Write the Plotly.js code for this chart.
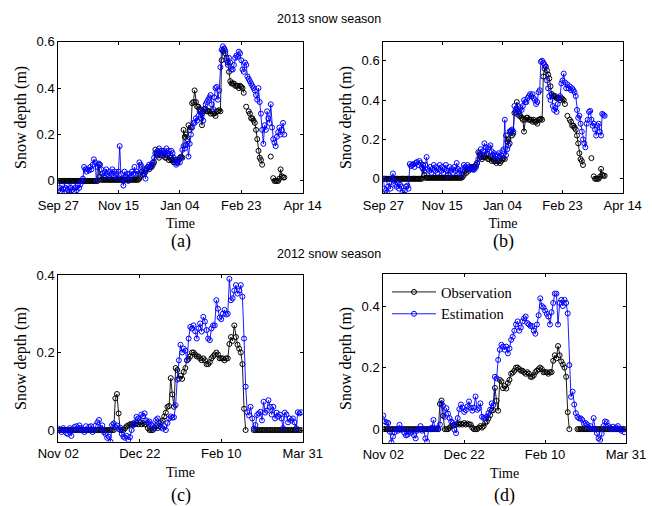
<!DOCTYPE html>
<html>
<head>
<meta charset="utf-8">
<script src="https://cdn.plot.ly/plotly-3.0.1.min.js"></script>
<style>html,body{margin:0;padding:0;background:#fff;}#chart{width:652px;height:506px;}</style>
</head>
<body>
<div id="chart"></div>
<script>
// ---------- DATA ----------
// 2013 snow season (day 0 = Sep 27), daily values (m)
const ticks2013 = ['Sep 27','Nov 15','Jan 04','Feb 23','Apr 14'];
const tickDays2013 = [0,49,99,149,199];
const obs2013 = [
0,0,0,0,0,0,0,0,0,0,
0,0,0,0,0,0,0,0,0,0,
0,0,0,0,0,0,0,0,0,0,
0,0,0,0.07,0.02,0.005,0.005,0.005,0.005,0.005,
0.005,0.005,0.005,0.005,0.005,0.005,0.005,0.005,0.005,0.005,
0.005,0.005,0.005,0.005,0.005,0.005,0.005,0.005,0.005,0.005,
0.005,0.005,0.005,0.005,0.005,0.005,0.01,0.02,0.04,0.03,
0.05,0.04,0.05,0.06,0.05,0.06,0.06,0.07,0.08,0.135,
0.12,0.11,0.1,0.11,0.12,0.11,0.12,0.1,0.1,0.11,
0.09,0.1,0.09,0.09,0.08,0.09,0.09,0.08,0.09,0.1,
0.105,0.1,0.22,0.19,0.2,0.18,0.24,0.22,0.23,0.335,
0.34,0.39,0.34,0.32,0.32,0.31,0.3,0.24,0.3,0.31,
0.31,0.3,0.3,0.3,0.29,0.3,0.29,0.29,0.28,0.3,
0.3,0.305,0.3,0.52,0.56,0.57,0.55,0.53,0.51,0.47,
0.43,0.42,0.42,0.42,0.41,0.41,0.41,0.4,0.41,0.405,
0.4,0.38,null,0.32,null,0.3,0.29,0.27,0.27,0.26,
0.25,0.22,0.18,0.13,0.1,0.09,0.07,null,null,null,
null,null,null,0.105,null,0.012,0,0,0,0,
0.01,0.05,0.02,0.015,0.015];
const estA2013 = [
-0.04,-0.03,-0.045,-0.02,-0.035,-0.05,-0.03,-0.02,-0.04,-0.05,
-0.03,-0.04,-0.02,-0.045,-0.03,-0.04,-0.02,-0.03,-0.015,0,
0.01,0.06,0.05,0.04,0.05,0.045,0.06,0.05,0.07,0.093,
0.08,0,0.06,0.075,0.07,0.05,0.03,0.02,0.04,0.05,
0.03,0.02,0.04,0.03,0.05,0.02,0.04,0.03,0.01,0.04,
0.15,0.03,0.01,-0.02,0.04,0.02,0.03,0,0.03,0.02,
0.04,0.03,0.06,0.03,0.04,0.03,0.08,0.07,0.06,0.04,
0.03,0.01,0.05,0.06,0.07,0.06,0.07,0.08,0.1,0.12,
0.11,0.13,0.14,0.12,0.13,0.11,0.13,0.12,0.14,0.12,
0.13,0.11,0.13,0.12,0.1,0.08,0.07,0.076,0.09,0.08,
0.1,0.134,0.15,0.14,0.155,0.17,0.105,0.16,0.2,0.23,
0.25,0.25,0.27,0.26,0.28,0.3,0.27,0.29,0.26,0.31,
0.33,0.34,0.35,0.36,0.37,0.33,0.31,0.36,0.4,0.405,
0.35,0.39,0.49,0.565,0.58,0.57,0.56,0.52,0.5,0.53,
0.51,0.48,0.48,0.5,0.53,0.54,0.535,0.557,0.55,0.52,
0.48,0.47,0.51,0.5,0.45,0.44,0.43,0.42,0.41,0.4,
0.39,0.37,0.35,0.4,0.34,0.29,0.22,0.16,0.24,0.22,
0.3,0.27,0.25,0.33,0.23,0.18,0.165,0.15,0.19,0.21,
0.23,0.2,0.22,0.25,0.2];
const estB2013 = [
0,-0.05,-0.06,-0.07,-0.04,-0.02,-0.05,0,0.027,-0.01,
-0.03,-0.04,-0.02,-0.05,-0.03,-0.04,-0.07,-0.08,-0.06,-0.04,
-0.035,-0.05,0.075,0.065,0.07,0.075,0.06,0.08,0.085,0.07,
0.09,0.08,0.06,0.05,0.04,0.07,0.11,0.05,0.04,0.06,
0.03,0.05,0.07,0.04,0.06,0.03,0.05,0.07,0.04,0.06,
0.03,0.05,0.07,0.04,0.02,0.06,0.04,0.05,0.03,0.06,
0.04,0.08,0.05,0.03,0.04,0.02,0.05,0.07,0.06,0.05,
0.07,0.06,0.05,0.055,0.05,0.045,0.05,0.06,0.08,0.1,
0.13,0.15,0.12,0.14,0.18,0.16,0.13,0.15,0.16,0.17,
0.14,0.12,0.13,0.12,0.1,0.12,0.13,0.11,0.12,0.14,
0.15,0.3,0.12,0.15,0.17,0.24,0.245,0.25,0.24,0.37,
0.35,0.33,0.37,0.34,0.36,0.35,0.37,0.4,0.39,0.39,
0.41,0.42,0.43,0.42,0.43,0.41,0.4,0.38,0.39,0.44,
0.45,0.595,0.6,0.59,0.58,0.57,0.5,0.46,0.42,0.4,
0.43,0.37,0.35,0.36,0.34,0.38,0.41,0.42,0.485,0.5,
0.535,0.49,0.46,0.48,0.46,0.47,0.45,0.46,0.45,0.44,
0.42,0.35,0.31,0.32,0.28,0.24,0.2,0.18,0.16,0.28,
0.3,0.34,0.345,0.3,0.27,0.28,0.25,0.22,0.27,0.28,
0.24,0.22,0.33,0.325,0.32];

// 2012 snow season (day 0 = Nov 02), daily values (m)
const ticks2012 = ['Nov 02','Dec 22','Feb 10','Mar 31'];
const tickDays2012 = [0,50,100,150];
const obs2012 = [
0,0,0,0,0,0,0,0,0,0,
0,0,0,0,0,0,0,0,0,0,
0,0,0,0,0,0,0,0,0,0,
0,0,0,0,0,0.082,0.093,0.043,0,0,
0,0.005,0.01,0.012,0.015,0.015,0.017,0.015,0.018,0.015,
0.02,0.015,0.018,0.015,0.015,0.005,0,0,0,0.005,
0.01,0.005,0.01,0.02,0.025,0.035,0.045,0.06,0.062,0.134,
0.092,0.06,0.16,0.155,0.133,0.14,0.132,0.15,0.16,0.18,
0.184,0.19,0.2,0.2,0.195,0.19,0.19,0.185,0.18,0.185,
0.18,0.17,0.17,0.175,0.185,0.19,0.195,0.2,0.195,0.185,
0.185,0.185,0.18,0.185,0.185,0.222,0.24,0.23,0.27,0.24,
0.22,0.21,0.2,0.17,0.055,0,null,null,null,null,
0,0,0,0,0,0,0,0,0,0,
0,0,0,0,0,0,0,0,0,0,
0,0,0,0,0,0,0,0,0,0];
const estC2012 = [
0.004,0,-0.005,0.005,0,-0.008,-0.01,0.005,-0.015,0,
0.008,0.01,0,0.012,0.005,0,-0.005,0.01,0,0.008,
0.01,-0.005,0,0.012,0.02,0.026,0.005,0.012,-0.005,-0.01,
-0.02,-0.017,-0.03,0.013,0.017,0.008,0.012,0.003,0.006,-0.01,
-0.017,-0.02,-0.015,-0.025,-0.018,0,0.013,0.02,0.034,0.03,
0.025,0.04,0.036,0.043,0.025,0.02,0.022,0.015,0.01,0.004,
0.026,0.03,0.018,0.008,0.004,0.01,0,0.018,0.03,0.035,
0.032,0.033,0.064,0.13,0.18,0.22,0.2,0.21,0.205,0.18,
0.236,0.266,0.262,0.27,0.255,0.236,0.262,0.275,0.254,0.292,
0.28,0.258,0.236,0.232,0.262,0.27,0.27,0.335,0.313,0.29,
0.286,0.3,0.31,0.298,0.3,0.39,0.335,0.34,0.36,0.374,
0.352,0.36,0.374,0.344,0.236,0.112,0.046,0.038,0.06,0.03,
0.004,0.013,0.039,0.043,0.047,0.025,0.073,0.045,0.05,0.077,
0.06,0.04,0.06,0.03,0.045,0.035,0.04,0.03,0.005,0.045,
0.04,0.02,0.03,0.025,0.03,0.02,0.005,0.046,0.043,0.046];
const estD2012 = [
0.044,0.025,0.022,0.02,-0.008,-0.043,-0.024,-0.01,0,-0.005,
0.014,-0.002,0,-0.012,-0.02,-0.018,-0.008,-0.012,-0.005,-0.02,
-0.03,-0.005,0,0.01,-0.005,0,-0.03,-0.04,0,0,
0.005,0.03,0,0.003,0,0.015,0.084,0.075,0.04,0.068,
0.05,0.036,0.025,0.02,-0.002,-0.013,0.036,0.065,0.08,0.07,
0.056,0.062,0.074,0.09,0.07,0.06,0.07,0.106,0.063,0.068,
0.084,0.04,0.036,0.036,0.041,0.052,0.063,0.084,0.078,0.17,
0.165,0.225,0.258,0.274,0.268,0.258,0.268,0.246,0.262,0.29,
0.3,0.32,0.34,0.35,0.32,0.33,0.35,0.36,0.366,0.345,
0.34,0.335,0.335,0.32,0.31,0.34,0.37,0.425,0.4,0.395,
0.385,0.375,0.366,0.34,0.38,0.41,0.44,0.44,0.34,0.41,
0.42,0.4,0.42,0.41,0.376,0.208,0.105,0.122,0.08,0.052,
0.04,0.035,0.035,0.03,0.018,0.02,0.015,0.005,0.01,0,
0.036,0,-0.013,-0.03,-0.035,-0.015,0.01,0.025,0.023,0.01,
0.005,0,0.008,0,0.005,0.01,0,-0.005,0,-0.01];

// ---------- BUILD ----------
const W = 652, H = 506;
const days = arr => arr.map((_, i) => i);
const dx = (a, b) => [a / W, b / W];
const dy = (top, bot) => [1 - bot / H, 1 - top / H];

function series(vals, color, name, xa, ya, show) {
  return {
    x: days(vals), y: vals, xaxis: xa, yaxis: ya, name: name,
    type: 'scatter', mode: 'lines+markers', showlegend: show,
    line: {color: color, width: 0.9},
    marker: {symbol: 'circle-open', size: 5, color: color, line: {color: color, width: 1}}
  };
}

const traces = [
  series(obs2013, '#000000', 'Observation', 'x', 'y', false),
  series(estA2013, '#0000ff', 'Estimation', 'x', 'y', false),
  series(obs2013, '#000000', 'Observation', 'x2', 'y2', false),
  series(estB2013, '#0000ff', 'Estimation', 'x2', 'y2', false),
  series(obs2012, '#000000', 'Observation', 'x3', 'y3', false),
  series(estC2012, '#0000ff', 'Estimation', 'x3', 'y3', false),
  series(obs2012, '#000000', 'Observation', 'x4', 'y4', true),
  series(estD2012, '#0000ff', 'Estimation', 'x4', 'y4', true)
];

const tickFont = {family: 'Liberation Sans, Arial, sans-serif', size: 13, color: '#000'};
const serif = 'Liberation Serif, Times New Roman, serif';
function xax(dom, anchor, range, vals, text) {
  return {domain: dom, anchor: anchor, range: range, tickvals: vals, ticktext: text,
    showline: true, linecolor: '#000', linewidth: 1, mirror: 'ticks', ticks: 'inside',
    ticklen: 3, tickcolor: '#000', showgrid: false, zeroline: false, tickfont: tickFont,
    title: {text: 'Time', font: {family: serif, size: 14, color: '#000'}, standoff: 6}};
}
function yax(dom, anchor, range, vals) {
  return {domain: dom, anchor: anchor, range: range, tickvals: vals,
    ticktext: vals.map(v => String(v)),
    showline: true, linecolor: '#000', linewidth: 1, mirror: 'ticks', ticks: 'inside',
    ticklen: 3, tickcolor: '#000', showgrid: false, zeroline: false, tickfont: tickFont,
    title: {text: 'Snow depth (m)', font: {family: serif, size: 16, color: '#000'}, standoff: 6}};
}

const layout = {
  width: W, height: H, autosize: false,
  margin: {l: 0, r: 0, t: 0, b: 0},
  paper_bgcolor: '#fff', plot_bgcolor: '#fff',
  xaxis:  xax(dx(58.3, 302.7), 'y',  [0, 199], tickDays2013, ticks2013),
  yaxis:  yax(dy(41.7, 193),   'x',  [-0.052, 0.6], [0, 0.2, 0.4, 0.6]),
  xaxis2: xax(dx(383.3, 622.7), 'y2', [0, 199], tickDays2013, ticks2013),
  yaxis2: yax(dy(41.7, 193.3),  'x2', [-0.074, 0.697], [0, 0.2, 0.4, 0.6]),
  xaxis3: xax(dx(58.3, 302.7), 'y3', [0, 150], tickDays2012, ticks2012),
  yaxis3: yax(dy(275, 441.7),  'x3', [-0.03, 0.4], [0, 0.2, 0.4]),
  xaxis4: xax(dx(383.3, 626),  'y4', [0, 150], tickDays2012, ticks2012),
  yaxis4: yax(dy(274, 442.7),  'x4', [-0.044, 0.504], [0, 0.2, 0.4]),
  showlegend: true,
  legend: {x: 387 / W, y: 1 - 276 / H, xanchor: 'left', yanchor: 'top',
    bgcolor: 'rgba(0,0,0,0)', borderwidth: 0, tracegroupgap: 0, itemwidth: 44,
    font: {family: serif, size: 14.5, color: '#000'}},
  annotations: [
    {text: '2013 snow season', x: 329 / W, y: 1 - 19 / H, xref: 'paper', yref: 'paper',
     showarrow: false, xanchor: 'center', yanchor: 'middle',
     font: {family: 'Liberation Sans, Arial, sans-serif', size: 12.5, color: '#000'}},
    {text: '2012 snow season', x: 329 / W, y: 1 - 254 / H, xref: 'paper', yref: 'paper',
     showarrow: false, xanchor: 'center', yanchor: 'middle',
     font: {family: 'Liberation Sans, Arial, sans-serif', size: 12.5, color: '#000'}},
    {text: '(a)', x: 180.5 / W, y: 1 - 241 / H, xref: 'paper', yref: 'paper', showarrow: false,
     xanchor: 'center', yanchor: 'middle', font: {family: serif, size: 18, color: '#000'}},
    {text: '(b)', x: 503 / W, y: 1 - 241 / H, xref: 'paper', yref: 'paper', showarrow: false,
     xanchor: 'center', yanchor: 'middle', font: {family: serif, size: 18, color: '#000'}},
    {text: '(c)', x: 180.5 / W, y: 1 - 495 / H, xref: 'paper', yref: 'paper', showarrow: false,
     xanchor: 'center', yanchor: 'middle', font: {family: serif, size: 18, color: '#000'}},
    {text: '(d)', x: 504 / W, y: 1 - 495 / H, xref: 'paper', yref: 'paper', showarrow: false,
     xanchor: 'center', yanchor: 'middle', font: {family: serif, size: 18, color: '#000'}}
  ]
};

Plotly.newPlot('chart', traces, layout, {displayModeBar: false, staticPlot: true});
</script>
</body>
</html>
